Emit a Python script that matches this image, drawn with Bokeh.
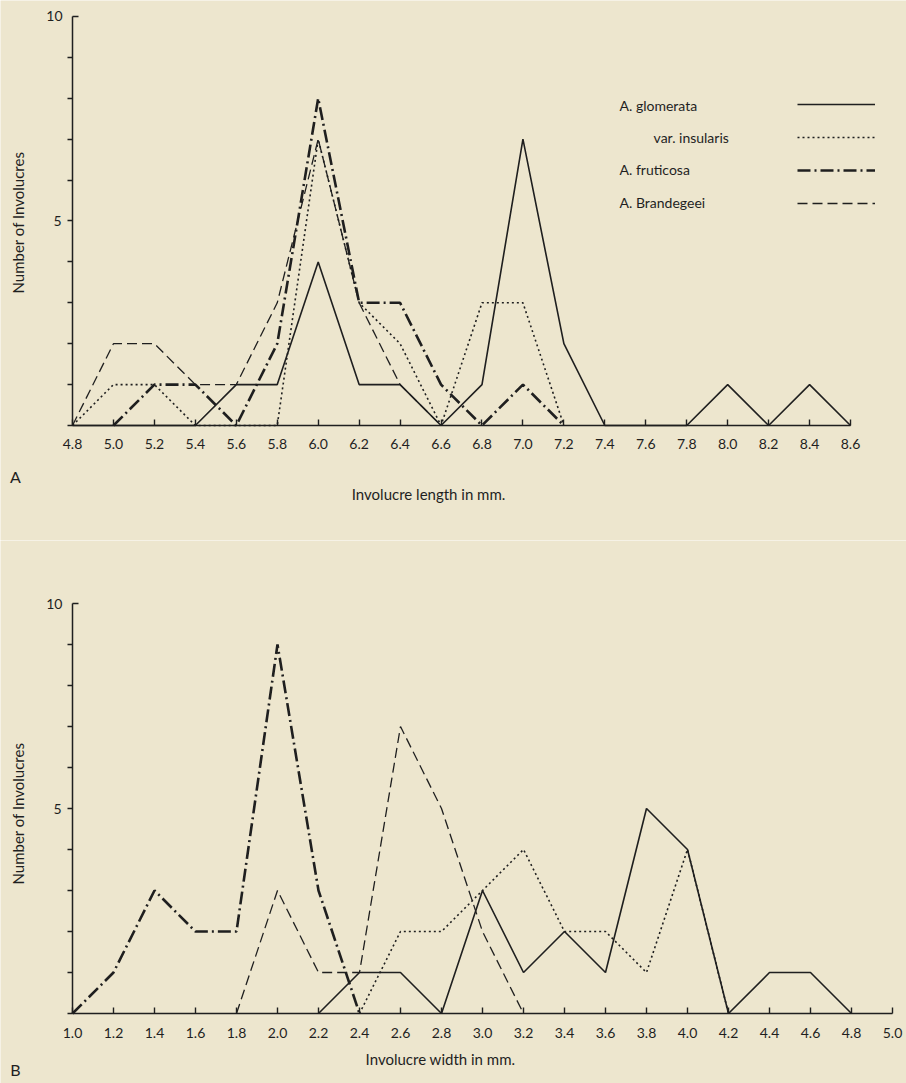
import math
from bokeh.plotting import figure
from bokeh.layouts import column
from bokeh.models import Range1d, FixedTicker, Label, Legend, LegendItem, LinearAxis
from bokeh.embed import file_html
from bokeh.resources import INLINE

BG = "#ede6ce"
INK = "#1f1f1f"
FONT = "Lato"

# ---------------- Panel A: involucre length ----------------
a_ticks = [4.8, 5.0, 5.2, 5.4, 5.6, 5.8, 6.0, 6.2, 6.4, 6.6, 6.8, 7.0, 7.2, 7.4, 7.6, 7.8, 8.0, 8.2, 8.4, 8.6]
a_tick_labels = ["4.8", "5.0", "5.2", "5.4", "5.6", "5.8", "6.0", "6.2", "6.4", "6.6", "6.8", "7.0", "7.2",
                 "7.4", "7.6", "7.8", "8.0", "8.2", "8.4", "8.6"]

glom_a_x = [4.8, 5.0, 5.2, 5.4, 5.6, 5.8, 6.0, 6.2, 6.4, 6.6, 6.8, 7.0, 7.2, 7.4, 7.6, 7.8, 8.0, 8.2, 8.4, 8.6]
glom_a_y = [0, 0, 0, 0, 1, 1, 4, 1, 1, 0, 1, 7, 2, 0, 0, 0, 1, 0, 1, 0]

ins_a_x = [4.8, 5.0, 5.2, 5.4, 5.6, 5.8, 6.0, 6.2, 6.4, 6.6, 6.8, 7.0, 7.2]
ins_a_y = [0, 1, 1, 0, 0, 0, 7, 3, 2, 0, 3, 3, 0]

fru_a_x = [5.0, 5.2, 5.4, 5.6, 5.8, 6.0, 6.2, 6.4, 6.6, 6.8, 7.0, 7.2]
fru_a_y = [0, 1, 1, 0, 2, 8, 3, 3, 1, 0, 1, 0]

bra_a_x = [4.8, 5.0, 5.2, 5.4, 5.6, 5.8, 6.0, 6.2, 6.4, 6.6]
bra_a_y = [0, 2, 2, 1, 1, 3, 7, 3, 1, 0]

# ---------------- Panel B: involucre width ----------------
b_ticks = [1.0, 1.2, 1.4, 1.6, 1.8, 2.0, 2.2, 2.4, 2.6, 2.8, 3.0, 3.2, 3.4, 3.6, 3.8, 4.0, 4.2, 4.4, 4.6, 4.8, 5.0]
b_tick_labels = ["1.0", "1.2", "1.4", "1.6", "1.8", "2.0", "2.2", "2.4", "2.6", "2.8", "3.0", "3.2", "3.4",
                 "3.6", "3.8", "4.0", "4.2", "4.4", "4.6", "4.8", "5.0"]

glom_b_x = [2.2, 2.4, 2.6, 2.8, 3.0, 3.2, 3.4, 3.6, 3.8, 4.0, 4.2, 4.4, 4.6, 4.8]
glom_b_y = [0, 1, 1, 0, 3, 1, 2, 1, 5, 4, 0, 1, 1, 0]

ins_b_x = [2.4, 2.6, 2.8, 3.0, 3.2, 3.4, 3.6, 3.8, 4.0, 4.2]
ins_b_y = [0, 2, 2, 3, 4, 2, 2, 1, 4, 0]

fru_b_x = [1.0, 1.2, 1.4, 1.6, 1.8, 2.0, 2.2, 2.4]
fru_b_y = [0, 1, 3, 2, 2, 9, 3, 0]

bra_b_x = [1.8, 2.0, 2.2, 2.4, 2.6, 2.8, 3.0, 3.2]
bra_b_y = [0, 3, 1, 1, 7, 5, 2, 0]

# y ticks 0..9 point outwards; the top tick (10) points inwards
y_ticks = [0, 1, 2, 3, 4, 5, 6, 7, 8, 9]
y_tick_labels = ["", "", "", "", "", "5", "", "", "", ""]
y_top_tick = [10]
y_top_label = ["10"]

species = ["A. glomerata", "var. insularis", "A. fruticosa", "A. Brandegeei"]

STYLES = {
    "glom": dict(line_width=1.6, line_dash="solid"),
    "ins": dict(line_width=1.6, line_dash="2 3"),
    "fru": dict(line_width=2.6, line_dash="13 4 2 4"),
    "bra": dict(line_width=1.3, line_dash="10 5"),
}


def style_axis(ax, size="14px"):
    ax.minor_tick_line_color = None
    ax.axis_line_color = INK
    ax.axis_line_width = 1.5
    ax.major_tick_line_color = INK
    ax.major_tick_line_width = 1.4
    ax.major_label_text_font = FONT
    ax.major_label_text_font_size = size
    ax.major_label_text_color = INK


def make_panel(height, x_range, y_range, x_bounds, ticks, tick_labels):
    p = figure(width=906, height=height, output_backend="svg", toolbar_location=None,
               x_range=x_range, y_range=y_range,
               x_axis_location=None, y_axis_location=None)
    p.min_border = 0
    p.background_fill_color = BG
    p.border_fill_color = BG
    p.outline_line_color = None
    p.grid.visible = False

    xa = LinearAxis(fixed_location=0, bounds=x_bounds, ticker=FixedTicker(ticks=ticks))
    xa.major_label_overrides = {t: l for t, l in zip(ticks, tick_labels)}
    style_axis(xa)
    xa.major_tick_in = 6
    xa.major_tick_out = 0
    xa.major_label_standoff = 14
    p.add_layout(xa, "below")

    ya = LinearAxis(fixed_location=x_bounds[0], bounds=(0, 10), ticker=FixedTicker(ticks=y_ticks))
    ya.major_label_overrides = {t: l for t, l in zip(y_ticks, y_tick_labels)}
    style_axis(ya)
    ya.major_tick_in = 0
    ya.major_tick_out = 5
    ya.major_label_standoff = 6
    p.add_layout(ya, "left")

    yt = LinearAxis(fixed_location=x_bounds[0], bounds=(0, 10), ticker=FixedTicker(ticks=y_top_tick))
    yt.major_label_overrides = {t: l for t, l in zip(y_top_tick, y_top_label)}
    style_axis(yt)
    yt.axis_line_color = None
    yt.major_tick_in = 6
    yt.major_tick_out = 0
    yt.major_label_standoff = 10
    p.add_layout(yt, "left")
    return p


def text(p, x, y, s, size="15px", align="left", angle=0.0):
    p.add_layout(Label(x=x, y=y, text=s, text_font=FONT, text_font_size=size, text_color=INK,
                       text_align=align, text_baseline="middle", angle=angle))


# ---- Panel A ----
pa = make_panel(540, Range1d(4.4483, 8.8734), Range1d(-2.812, 10.391), (4.8, 8.6),
                a_ticks, a_tick_labels)
r_glom = pa.line(glom_a_x, glom_a_y, line_color=INK, **STYLES["glom"])
r_ins = pa.line(ins_a_x, ins_a_y, line_color=INK, **STYLES["ins"])
r_fru = pa.line(fru_a_x, fru_a_y, line_color=INK, **STYLES["fru"])
r_bra = pa.line(bra_a_x, bra_a_y, line_color=INK, **STYLES["bra"])

legend = Legend(items=[LegendItem(label=" ", renderers=[r]) for r in (r_glom, r_ins, r_fru, r_bra)],
                location=(797, 327), glyph_width=78, glyph_height=20, label_height=20,
                label_width=0, label_standoff=0, spacing=13, padding=0, margin=0,
                border_line_color=None, background_fill_alpha=0, label_text_font_size="1px")
pa.add_layout(legend)

legend_text_pos = [(7.472, 7.82), (7.638, 7.04), (7.472, 6.26), (7.472, 5.45)]
for name, (lx, ly) in zip(species, legend_text_pos):
    text(pa, lx, ly, name, size="14px")

text(pa, 6.539, -1.663, "Involucre length in mm.", align="center")
text(pa, 4.5216, -1.25, "A", size="16px", align="center")
text(pa, 4.536, 4.963, "Number of Involucres", align="center", angle=math.pi / 2)

# ---- Panel B ----
pb = make_panel(543, Range1d(0.6488, 5.0683), Range1d(-1.707, 11.537), (1.0, 5.0),
                b_ticks, b_tick_labels)
pb.line(glom_b_x, glom_b_y, line_color=INK, **STYLES["glom"])
pb.line(ins_b_x, ins_b_y, line_color=INK, **STYLES["ins"])
pb.line(fru_b_x, fru_b_y, line_color=INK, **STYLES["fru"])
pb.line(bra_b_x, bra_b_y, line_color=INK, **STYLES["bra"])

text(pb, 2.795, -1.12, "Involucre width in mm.", align="center")
text(pb, 0.722, -1.37, "B", size="16px", align="center")
text(pb, 0.7366, 4.878, "Number of Involucres", align="center", angle=math.pi / 2)

layout = column(pa, pb, spacing=0)
open("out.html", "w").write(file_html(layout, INLINE))
